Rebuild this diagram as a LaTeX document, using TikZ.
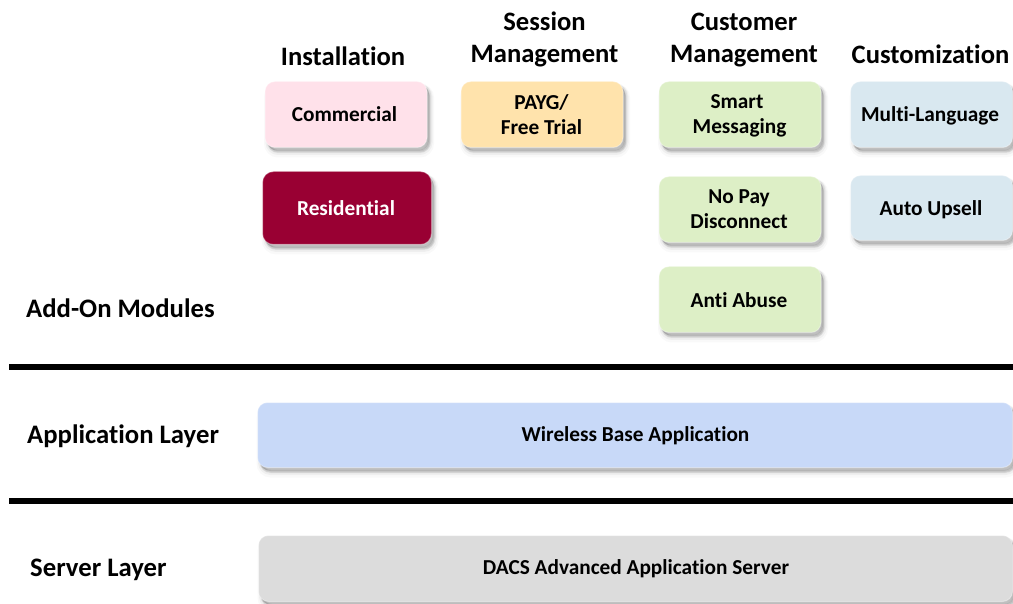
\documentclass[tikz,border=0pt]{standalone}
\usepackage{fontspec}
\setmainfont[Ligatures=NoCommon]{Carlito}
\definecolor{cPink}{HTML}{FFE1EA}
\definecolor{cMaroon}{HTML}{990033}
\definecolor{cOrange}{HTML}{FFE3AC}
\definecolor{cGreen}{HTML}{DDEFC6}
\definecolor{cBlueGrey}{HTML}{D9E8F0}
\definecolor{cBlue}{HTML}{C8D9F8}
\definecolor{cGrey}{HTML}{DCDCDC}
% \nudge{dx}{dy}{text}: shift a text line inside its centred box (right dx, down dy)
\newcommand{\nudge}[3]{\raisebox{-#2pt}[\height][\depth]{\kern#1pt\kern#1pt #3}}
\tikzset{
  softshadow/.style={
    preaction={fill=black,draw=black,line width=8pt,opacity=.025,transform canvas={xshift=3pt,yshift=-6pt}},
    preaction={fill=black,draw=black,line width=5pt,opacity=.04,transform canvas={xshift=3pt,yshift=-5pt}},
    preaction={fill=black,draw=black,line width=2.5pt,opacity=.07,transform canvas={xshift=3pt,yshift=-4pt}},
    preaction={fill=black,opacity=.14,transform canvas={xshift=2pt,yshift=-3pt}}},
  modbox/.style={softshadow,rounded corners=10pt,draw=white,draw opacity=.35,line width=1pt,
    align=center,font=\fontsize{21.3pt}{25pt}\selectfont\bfseries,inner sep=0pt,
    minimum width=162pt,minimum height=66pt},
  header/.style={align=center,font=\fontsize{26.6pt}{32pt}\selectfont\bfseries,inner sep=0pt},
  layer/.style={font=\fontsize{26.7pt}{30pt}\selectfont\bfseries,inner sep=0pt,anchor=west},
  rule/.style={line width=6pt,draw=black},
}
\begin{document}
\begin{tikzpicture}[x=1pt,y=-1pt]
\useasboundingbox (0,0) rectangle (1013,604);
\node[header] (hInst) at (343,56.5) {Installation};
\node[header] (hSess) at (544.5,39) {Session\\Management};
\node[header] (hCust) at (744,40) {Customer\\Management};
\node[header] (hCusto) at (930.5,54) {Customization};
\node[modbox,fill=cPink] (commercial) at (346,114.5) {\nudge{-1.5}{0}{Commercial}};
\node[modbox,fill=cOrange] (payg) at (542,114.5) {\nudge{-0.5}{0}{PAYG/}\\\nudge{-0.5}{0}{Free Trial}};
\node[modbox,fill=cMaroon,text=white,minimum width=169pt,minimum height=73pt,rounded corners=11pt] (residential) at (347,208) {\nudge{-1}{0.5}{Residential}};
\node[modbox,fill=cGreen] (smart) at (740,114.5) {\nudge{-3}{1.5}{Smart}\\\nudge{-0.5}{1.5}{Messaging}};
\node[modbox,fill=cGreen] (nopay) at (740,209.5) {\nudge{-1}{0}{No Pay}\\\nudge{-1}{0}{Disconnect}};
\node[modbox,fill=cGreen] (abuse) at (740,299.5) {\nudge{-1}{1}{Anti Abuse}};
\node[modbox,fill=cBlueGrey] (multi) at (931.5,114.5) {\nudge{-1.5}{1}{Multi-Language}};
\node[modbox,fill=cBlueGrey,minimum height=65pt] (upsell) at (931.5,208) {\nudge{-0.5}{2}{Auto Upsell}};
\node[layer] (lAdd) at (26,308) {Add-On Modules};
\node[layer] (lApp) at (27,436) {Application Layer};
\node[layer] (lSrv) at (30,570) {Server Layer};
\node[modbox,fill=cBlue,minimum width=755pt,minimum height=65pt] (wireless) at (635,435) {\nudge{0.5}{0.5}{Wireless Base Application}};
\node[modbox,fill=cGrey,minimum width=754pt] (dacs) at (635.5,568.5) {\nudge{0.5}{0.5}{DACS Advanced Application Server}};
\draw[rule] (9,367) -- (1013,367);
\draw[rule] (9,501) -- (1013,501);
\end{tikzpicture}
\end{document}
